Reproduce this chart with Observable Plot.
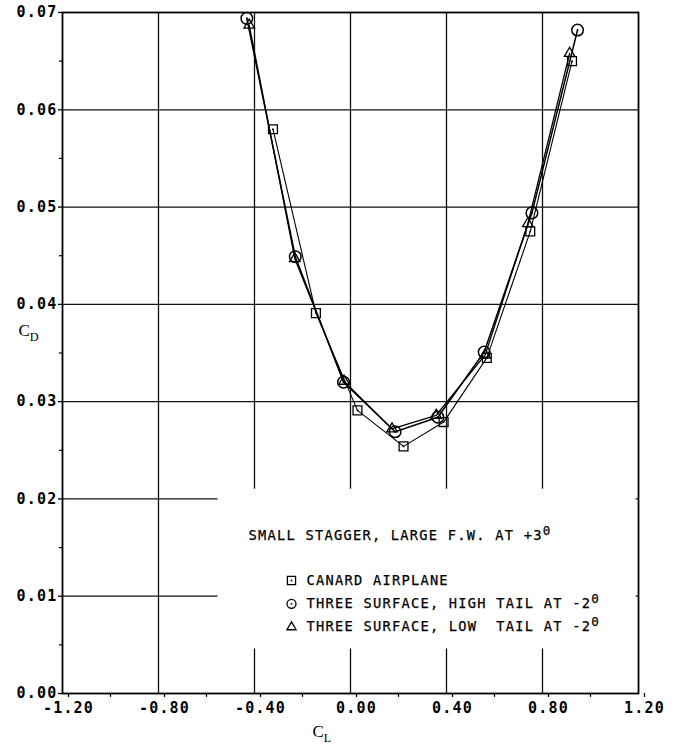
<!DOCTYPE html>
<html>
<head>
<meta charset="utf-8">
<script src="https://cdn.jsdelivr.net/npm/d3@7"></script>
<script src="https://cdn.jsdelivr.net/npm/@observablehq/plot@0.6"></script>
<style>
  html, body { margin: 0; padding: 0; background: #fff; }
  #chart svg text { white-space: pre; }
</style>
</head>
<body>
<div id="chart"></div>
<script>
// Drag polar: lift coefficient C_L vs drag coefficient C_D
const canardCL   = [-0.323, -0.144, 0.029, 0.221, 0.388, 0.568, 0.749, 0.923];
const canardCD   = [0.0580, 0.0391, 0.0291, 0.0254, 0.0279, 0.0345, 0.0475, 0.0650];
const highTailCL = [-0.432, -0.230, -0.029, 0.186, 0.364, 0.557, 0.756, 0.946];
const highTailCD = [0.0694, 0.0449, 0.0320, 0.0269, 0.0284, 0.0351, 0.0494, 0.0682];
const lowTailCL  = [-0.422, -0.232, -0.027, 0.173, 0.357, 0.561, 0.739, 0.913];
const lowTailCD  = [0.0687, 0.0447, 0.0321, 0.0272, 0.0286, 0.0348, 0.0483, 0.0658];

const xTicks = [-1.2, -0.8, -0.4, 0, 0.4, 0.8, 1.2];
const xMinor = [-1.0, -0.6, -0.2, 0.2, 0.6, 1.0];
const yTicks = [0, 0.01, 0.02, 0.03, 0.04, 0.05, 0.06, 0.07];
const yMinor = [0.005, 0.015, 0.025, 0.035, 0.045, 0.055, 0.065];

const legendTitle = "SMALL STAGGER, LARGE F.W. AT +3^0";
const legendLabels = [
  "CANARD AIRPLANE",
  "THREE SURFACE, HIGH TAIL AT -2^0",
  "THREE SURFACE, LOW  TAIL AT -2^0"
];
const xTitle = "C_L";
const yTitle = "C_D";

const series = [
  {name: "canard", cl: canardCL, cd: canardCD},
  {name: "high", cl: highTailCL, cd: highTailCD},
  {name: "low", cl: lowTailCL, cd: lowTailCD}
];
const rows = series.flatMap(s => s.cl.map((x, i) => ({series: s.name, cl: x, cd: s.cd[i]})));
const of = name => rows.filter(d => d.series === name);

// blank panel behind the key, in data units
const keyPanel = [{x1: -0.552, x2: 1.19, y1: 0.00458, y2: 0.0210}];

const mono = "DejaVu Sans Mono";
const fmtX = d => (d < 0 ? "-" : "") + Math.abs(d).toFixed(2);

const keyX = 186, keyY = 523, rowStep = 23.3;
const symX = 229, textX = 244, rowY0 = 568;

const svg = Plot.plot({
  width: 677,
  height: 745,
  marginLeft: 62,
  marginRight: 39,
  marginTop: 12,
  marginBottom: 52,
  x: {domain: [-1.2, 1.2], label: null},
  y: {domain: [0, 0.07], label: null},
  style: {background: "#fff", color: "#000"},
  marks: [
    Plot.ruleX(xTicks.slice(1, -1), {stroke: "#111", strokeWidth: 1.3}),
    Plot.ruleY(yTicks.slice(1, -1), {stroke: "#111", strokeWidth: 1.3}),
    Plot.rect(keyPanel, {x1: "x1", x2: "x2", y1: "y1", y2: "y2", fill: "#fff"}),
    Plot.frame({stroke: "#000", strokeWidth: 1.8}),
    Plot.axisY(yTicks, {tickSize: 4, tickPadding: 1, tickFormat: d => d.toFixed(2),
      fontSize: 15, fontFamily: mono, fontWeight: "bold", label: null, strokeWidth: 1.3}),
    Plot.axisY(yMinor, {tickSize: 3, tickFormat: () => "", label: null, strokeWidth: 1.2}),
    Plot.axisX(xTicks, {tickSize: 4, tickPadding: 5, tickFormat: fmtX, dx: 6,
      fontSize: 15, fontFamily: mono, fontWeight: "bold", label: null, strokeWidth: 1.3}),
    Plot.axisX(xMinor, {tickSize: 4, tickFormat: () => "", label: null, strokeWidth: 1.2}),

    // curves
    Plot.line(of("canard"), {x: "cl", y: "cd", stroke: "#000", strokeWidth: 1.1}),
    Plot.line(of("high"), {x: "cl", y: "cd", stroke: "#000", strokeWidth: 1.5}),
    Plot.line(of("low"), {x: "cl", y: "cd", stroke: "#000", strokeWidth: 1.3}),

    // markers
    Plot.dot(of("canard"), {x: "cl", y: "cd", symbol: "square", r: 5, stroke: "#000", strokeWidth: 1.3, fill: "none"}),
    Plot.dot(of("canard"), {x: "cl", y: "cd", r: 0.9, fill: "#000"}),
    Plot.dot(of("high"), {x: "cl", y: "cd", symbol: "circle", r: 5.8, stroke: "#000", strokeWidth: 1.5, fill: "none"}),
    Plot.dot(of("high"), {x: "cl", y: "cd", r: 0.9, fill: "#000"}),
    Plot.dot(of("low"), {x: "cl", y: "cd", symbol: "triangle", r: 3.9, stroke: "#000", strokeWidth: 1.3, fill: "none"}),

    // key
    Plot.text([legendTitle], {frameAnchor: "top-left", dx: keyX, dy: keyY, text: d => d,
      textAnchor: "start", lineAnchor: "middle", fontSize: 13.7, fontFamily: mono, fill: "#000",
      stroke: "#000", strokeWidth: 0.25}),
    ...legendLabels.map((lab, i) => Plot.text([lab], {frameAnchor: "top-left", dx: textX, dy: rowY0 + i * rowStep,
      text: d => d, textAnchor: "start", lineAnchor: "middle", fontSize: 13.7, fontFamily: mono, fill: "#000",
      stroke: "#000", strokeWidth: 0.25})),
    Plot.dot([0], {frameAnchor: "top-left", dx: symX, dy: rowY0, symbol: "square", r: 4.6, stroke: "#000", strokeWidth: 1.3, fill: "none"}),
    Plot.dot([0], {frameAnchor: "top-left", dx: symX, dy: rowY0, r: 0.9, fill: "#000"}),
    Plot.dot([0], {frameAnchor: "top-left", dx: symX, dy: rowY0 + rowStep, symbol: "circle", r: 4.5, stroke: "#000", strokeWidth: 1.3, fill: "none"}),
    Plot.dot([0], {frameAnchor: "top-left", dx: symX, dy: rowY0 + rowStep, r: 0.9, fill: "#000"}),
    Plot.dot([0], {frameAnchor: "top-left", dx: symX, dy: rowY0 + 2 * rowStep, symbol: "triangle", r: 3.4, stroke: "#000", strokeWidth: 1.3, fill: "none"}),

    // axis titles
    Plot.text([xTitle], {frameAnchor: "bottom", dx: -38, dy: 38, text: d => d, textAnchor: "start",
      lineAnchor: "middle", fontSize: 17, fontFamily: "Liberation Serif", fill: "#000"}),
    Plot.text([yTitle], {frameAnchor: "left", dx: -44, dy: -22, text: d => d, textAnchor: "start",
      lineAnchor: "middle", fontSize: 17, fontFamily: "Liberation Serif", fill: "#000"})
  ]
});

const root = d3.select(svg);
// wide plotter-style lettering
root.selectAll('g[aria-label="x-axis tick label"] text, g[aria-label="y-axis tick label"] text')
  .style("letter-spacing", "1.2px");
root.selectAll('g[aria-label="text"] text').style("letter-spacing", "1.25px");

// raised "^x" and lowered "_x" characters
root.selectAll("text").each(function () {
  const el = d3.select(this);
  const s = el.text();
  const m = s.match(/^(.*)([\^_])(.+)$/);
  if (!m) return;
  const sup = m[2] === "^";
  el.text(null);
  el.append("tspan").text(m[1]);
  el.append("tspan")
    .attr("dy", sup ? "-0.42em" : "0.38em")
    .attr("font-size", sup ? "0.92em" : "0.72em")
    .text(m[3]);
  if (!sup) el.style("letter-spacing", "0px");
});

document.getElementById("chart").appendChild(svg);
</script>
</body>
</html>
